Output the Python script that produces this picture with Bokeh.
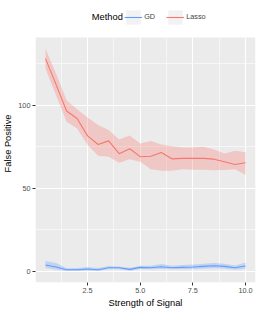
from bokeh.plotting import figure
from bokeh.models import (Range1d, FixedTicker, Legend, LegendItem, Label,
                          NumeralTickFormatter, BoxAnnotation)
from bokeh.embed import file_html
from bokeh.resources import INLINE

strength = [0.5, 1.0, 1.5, 2.0, 2.5, 3.0, 3.5, 4.0, 4.5, 5.0,
            5.5, 6.0, 6.5, 7.0, 7.5, 8.0, 8.5, 9.0, 9.5, 10.0]

lasso_mean = [128, 112.5, 96.5, 92, 81.5, 76.3, 78.5, 70.8, 73.8, 69,
              69.3, 71.5, 67.7, 68, 68, 68, 67.5, 66, 64.3, 65.3]
lasso_upper = [134, 119, 103, 97.5, 92.5, 88, 85, 79.3, 81.8, 77,
               78.5, 76.3, 75.3, 74.5, 74.5, 74.9, 73.3, 70.9, 72.5, 71.7]
lasso_lower = [122, 106, 90, 86, 76, 69.5, 69, 65.3, 67.5, 65.9,
               61.5, 60.5, 60.5, 61.5, 61.2, 61.2, 60.8, 61, 61.5, 58]

gd_mean = [3.8, 2.6, 1.0, 1.0, 1.4, 1.0, 2.2, 2.2, 1.2, 2.4,
           2.2, 2.8, 2.2, 2.4, 2.6, 3.0, 3.4, 3.0, 2.2, 3.2]
gd_upper = [6.2, 5.0, 1.8, 2.0, 2.6, 2.0, 3.2, 3.0, 2.2, 3.4,
            3.4, 4.4, 3.4, 3.8, 4.2, 4.6, 5.0, 4.6, 3.6, 5.4]
gd_lower = [2.0, 1.0, 0.2, 0.2, 0.4, 0.2, 1.2, 1.2, 0.4, 1.4,
            1.2, 1.4, 1.2, 1.2, 1.2, 1.6, 1.8, 1.6, 1.0, 1.4]

x_ticks = [2.5, 5.0, 7.5, 10.0]
x_minor = [1.25, 3.75, 6.25, 8.75]
y_ticks = [0, 50, 100]
y_minor = [25, 75, 125]

GD_COLOR = "#619CFF"
LASSO_COLOR = "#F8766D"
FONT = "Liberation Sans"
TITLE_SIZE = "9.3px"
SMALL_SIZE = "7.3px"

# panel (data) extent
X0, X1 = 0.025, 10.475
Y0, Y1 = -6.7, 140.7
PANEL_H = 245          # px height of the grey panel
TOP_STRIP = 33         # px of legend strip above the panel, inside the frame
FRAME_H = PANEL_H + TOP_STRIP
y_top = Y1 + TOP_STRIP * (Y1 - Y0) / PANEL_H

p = figure(frame_width=220, frame_height=FRAME_H, output_backend="svg", toolbar_location=None,
           x_range=Range1d(X0, X1), y_range=Range1d(Y0, y_top),
           min_border_left=32, min_border_right=6, min_border_top=4,
           min_border_bottom=27)
p.background_fill_color = "white"
p.border_fill_color = "white"
p.outline_line_color = None

panel = BoxAnnotation(bottom=Y0, top=Y1, fill_color="#EBEBEB", fill_alpha=1,
                      line_color=None, level="image")
p.add_layout(panel)

p.varea(x=strength, y1=lasso_lower, y2=lasso_upper, fill_color=LASSO_COLOR, fill_alpha=0.3)
p.varea(x=strength, y1=gd_lower, y2=gd_upper, fill_color=GD_COLOR, fill_alpha=0.3)
lasso_line = p.line(strength, lasso_mean, line_color=LASSO_COLOR, line_width=1.1)
gd_line = p.line(strength, gd_mean, line_color=GD_COLOR, line_width=1.1)

key_bg = p.quad(left=[0], right=[0], top=[0], bottom=[0], fill_color="#F2F2F2",
                line_color=None)

p.xaxis.ticker = FixedTicker(ticks=x_ticks, minor_ticks=x_minor)
p.yaxis.ticker = FixedTicker(ticks=y_ticks, minor_ticks=y_minor)
p.xaxis.formatter = NumeralTickFormatter(format="0.0")
p.yaxis.bounds = (Y0, Y1)

for ax in (p.xaxis, p.yaxis):
    ax.axis_line_color = None
    ax.major_tick_line_color = "#333333"
    ax.major_tick_out = 3
    ax.major_tick_in = 0
    ax.minor_tick_out = 0
    ax.minor_tick_in = 0
    ax.major_label_text_color = "#4D4D4D"
    ax.major_label_text_font_size = SMALL_SIZE
    ax.major_label_text_font = FONT
    ax.major_label_standoff = 2
    ax.axis_label_text_font = FONT
    ax.axis_label_text_font_size = TITLE_SIZE
    ax.axis_label_text_font_style = "normal"
    ax.axis_label_text_color = "black"
    ax.axis_label_standoff = 2

p.xaxis.axis_label = "Strength of Signal"
p.yaxis.axis_label = "False Positive"

for g in (p.xgrid, p.ygrid):
    g.grid_line_color = "white"
    g.grid_line_width = 1.1
    g.minor_grid_line_color = "white"
    g.minor_grid_line_width = 0.55
p.xgrid.cross_bounds = (Y0, Y1)

method_title = Label(x=56.3, y=FRAME_H - 12, x_units="screen", y_units="screen", text="Method",
                     text_align="left", text_baseline="middle",
                     text_font=FONT, text_font_size=TITLE_SIZE, text_color="black")
p.add_layout(method_title)

legend = Legend(items=[LegendItem(label="GD", renderers=[key_bg, gd_line]),
                       LegendItem(label="Lasso", renderers=[key_bg, lasso_line])],
                orientation="horizontal", location=(89.2, FRAME_H - 21.85))
legend.border_line_color = None
legend.background_fill_alpha = 0
legend.padding = 1
legend.margin = 0
legend.spacing = 2
legend.label_standoff = 2
legend.glyph_width = 18
legend.glyph_height = 18
legend.label_height = 18
legend.label_text_font = FONT
legend.label_text_font_size = SMALL_SIZE
p.add_layout(legend)

open("out.html", "w").write(file_html(p, INLINE))
